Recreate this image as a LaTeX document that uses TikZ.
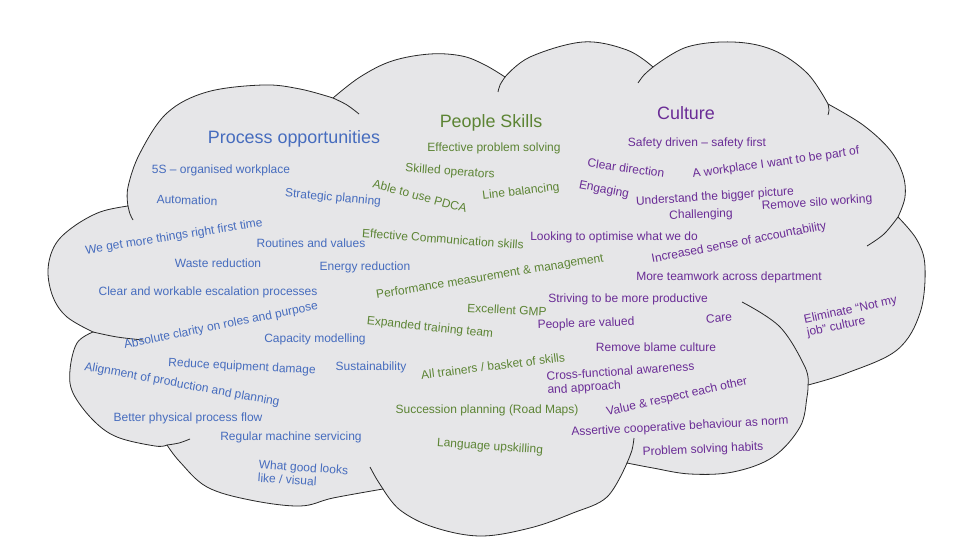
\documentclass[tikz,border=0pt]{standalone}
\usepackage{fontspec}
\setmainfont{Liberation Sans}
\definecolor{procblue}{RGB}{70,108,190}
\definecolor{peoplegreen}{RGB}{92,132,52}
\definecolor{culturepurple}{RGB}{106,44,150}
\definecolor{cloudfill}{RGB}{230,230,232}
\definecolor{cloudline}{RGB}{40,40,40}
\begin{document}
\begin{tikzpicture}[x=1pt,y=-1pt,
  txt/.style={inner sep=0pt, anchor=center, font=\fontsize{12}{13.5}\selectfont},
  pb/.style={txt, text=procblue},
  pg/.style={txt, text=peoplegreen},
  pp/.style={txt, text=culturepurple},
  ttl/.style={inner sep=0pt, anchor=center, font=\fontsize{17.9}{20}\selectfont},
  outline/.style={draw=cloudline, line width=0.8pt},
  tail/.style={draw=cloudline, line width=0.8pt, smooth, tension=0.6}]
\useasboundingbox[fill=white] (0,0) rectangle (960,540);
% cloud body
\path[outline, fill=cloudfill]
  plot[smooth, tension=0.6] coordinates {(93,332) (67,317) (53,297) (48,270) (55,245) (73,227) (100,212) (128,206)}
  -- plot[smooth, tension=0.6] coordinates {(128,206) (128,187) (140,153) (167,113) (207,92) (263,85) (300,89) (333,98)}
  -- plot[smooth, tension=0.6] coordinates {(333,98) (360,77) (392,61) (430,54) (462,56) (485,65) (505,77)}
  -- plot[smooth, tension=0.6] coordinates {(505,77) (530,57) (583,42) (627,50) (653,67)}
  -- plot[smooth, tension=0.6] coordinates {(653,67) (687,47) (733,42) (773,50) (807,73) (828,104)}
  -- plot[smooth, tension=0.6] coordinates {(828,104) (863,125) (890,150) (903,175) (905,197) (898,217)}
  -- plot[smooth, tension=0.6] coordinates {(898,217) (917,240) (925,267) (920,313) (897,350) (847,373) (808,385)}
  -- plot[smooth, tension=0.6] coordinates {(808,385) (807,397) (800,427) (773,457) (733,472) (690,474) (653,468) (627,463)}
  -- plot[smooth, tension=0.6] coordinates {(627,463) (607,497) (573,513) (530,528) (480,536) (433,527) (400,510) (383,489)}
  -- plot[smooth, tension=0.6] coordinates {(383,489) (333,498) (300,506) (250,500) (207,487) (180,462) (167,445)}
  -- plot[smooth, tension=0.6] coordinates {(167,445) (155,446) (117,437) (93,420) (73,393) (70,370) (77,343) (93,332)}
  -- cycle;
% inner tails of the cloud
\draw[tail] plot coordinates {(128,206) (130,214) (133,220)};
\draw[tail] plot coordinates {(333,98) (347,105) (359,114)};
\draw[tail] plot coordinates {(505,77) (500,85) (498,92)};
\draw[tail] plot coordinates {(653,67) (644,75) (638,83)};
\draw[tail] plot coordinates {(828,104) (829,110) (828,115)};
\draw[tail] plot coordinates {(898,217) (884,234) (867,246)};
\draw[tail] plot coordinates {(808,385) (805,367) (780,327) (742,302)};
\draw[tail] plot coordinates {(627,463) (632,450) (634,438)};
\draw[tail] plot coordinates {(383,489) (376,478) (370,467)};
\draw[tail] plot coordinates {(167,445) (179,443) (190,439)};
\draw[tail] plot coordinates {(93,332) (117,337) (143,340)};
% titles
\node[ttl, text=procblue] (tproc) at (294,139) {Process opportunities};
\node[ttl, text=peoplegreen] (tpeople) at (491,123) {People Skills};
\node[ttl, text=culturepurple] (tculture) at (686,113) {Culture};
% process opportunities
\node[pb] (p1) at (221,170) {5S – organised workplace};
\node[pb, rotate=-2] (p2) at (187,200) {Automation};
\node[pb, rotate=-5] (p3) at (333,198) {Strategic planning};
\node[pb, rotate=9] (p4) at (174,237) {We get more things right first time};
\node[pb] (p5) at (311,243) {Routines and values};
\node[pb] (p6) at (218,263) {Waste reduction};
\node[pb] (p7) at (365,267) {Energy reduction};
\node[pb] (p8) at (208,292) {Clear and workable escalation processes};
\node[pb, rotate=11.5] (p9) at (221,326) {Absolute clarity on roles and purpose};
\node[pb] (p10) at (315,339) {Capacity modelling};
\node[pb, rotate=-3] (p11) at (242,367) {Reduce equipment damage};
\node[pb] (p12) at (371,367) {Sustainability};
\node[pb, rotate=-10.5] (p13) at (182,385) {Alignment of production and planning};
\node[pb] (p14) at (188,418) {Better physical process flow};
\node[pb] (p15) at (291,437) {Regular machine servicing};
\node[pb, rotate=-4, align=left] (p16) at (303,474) {What good looks\\like / visual};
% people skills
\node[pg] (s1) at (494,148) {Effective problem solving};
\node[pg, rotate=-4] (s2) at (450,172) {Skilled operators};
\node[pg, rotate=-15] (s3) at (420,196) {Able to use PDCA};
\node[pg, rotate=7] (s4) at (521,192) {Line balancing};
\node[pg, rotate=-4.3] (s5) at (443,239) {Effective Communication skills};
\node[pg, rotate=9.3] (s6) at (490,277) {Performance measurement \& management};
\node[pg, rotate=-3] (s7) at (507,310) {Excellent GMP};
\node[pg, rotate=-6] (s8) at (430,328) {Expanded training team};
\node[pg, rotate=7] (s9) at (493,366) {All trainers / basket of skills};
\node[pg] (s10) at (487,410) {Succession planning (Road Maps)};
\node[pg, rotate=-4] (s11) at (490,447) {Language upskilling};
% culture
\node[pp] (c1) at (697,143) {Safety driven – safety first};
\node[pp, rotate=-8] (c2) at (626,168) {Clear direction};
\node[pp, rotate=8] (c3) at (776,163) {A workplace I want to be part of};
\node[pp, rotate=-11] (c4) at (604,190) {Engaging};
\node[pp, rotate=3.7] (c5) at (715,197) {Understand the bigger picture};
\node[pp, rotate=2] (c6) at (701,215) {Challenging};
\node[pp, rotate=4] (c7) at (817,203) {Remove silo working};
\node[pp] (c8) at (614,237) {Looking to optimise what we do};
\node[pp, rotate=10.9] (c9) at (739,243) {Increased sense of accountability};
\node[pp] (c10) at (729,277) {More teamwork across department};
\node[pp] (c11) at (628,299) {Striving to be more productive};
\node[pp, rotate=2] (c12) at (586,324) {People are valued};
\node[pp, rotate=5] (c13) at (719,318) {Care};
\node[pp] (c14) at (656,347) {Remove blame culture};
\node[pp, rotate=4, align=left] (c15) at (621,379) {Cross-functional awareness\\and approach};
\node[pp, rotate=12.5] (c16) at (677,397) {Value \& respect each other};
\node[pp, rotate=3] (c17) at (680,427) {Assertive cooperative behaviour as norm};
\node[pp, rotate=2.5] (c18) at (703,450) {Problem solving habits};
\node[pp, rotate=12, align=left] (c19) at (852,317) {Eliminate “Not my\\job” culture};
\end{tikzpicture}
\end{document}
